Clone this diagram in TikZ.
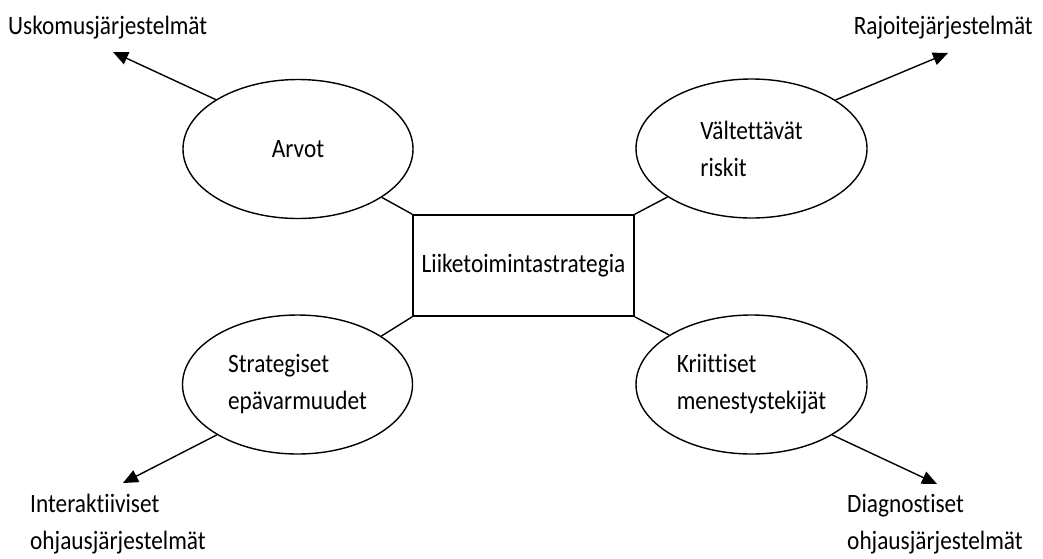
\documentclass[tikz,border=0pt]{standalone}
\usepackage{fontspec}
\setmainfont{Carlito}[Ligatures={NoCommon},FakeStretch=0.88]
\usetikzlibrary{arrows.meta,shapes.geometric}
\begin{document}
\begin{tikzpicture}[x=1pt,y=-1pt,
  txt/.style={font=\fontsize{26.5}{37}\selectfont, inner sep=0pt, align=left},
  oval/.style={ellipse, draw, line width=1.4pt, inner sep=0pt, minimum width=230pt, minimum height=139pt, txt},
  box/.style={rectangle, draw, line width=1.6pt, inner sep=0pt, minimum width=221pt, minimum height=101pt, txt},
  link/.style={line width=1.4pt},
  arr/.style={line width=1.4pt, -{Triangle[length=15pt,width=13pt]}}]
\useasboundingbox (0,0) rectangle (1043,558);
\node[box] (c) at (523.5,265.5) {Liiketoimintastrategia};
\node[oval] (a) at (298,149) {Arvot};
\node[oval, minimum width=231pt] (b) at (751.5,148.5) {Vältettävät\\riskit};
\node[oval] (s) at (297.5,384.5) {Strategiset\\epävarmuudet};
\node[oval, minimum width=231pt] (k) at (751.5,384.5) {Kriittiset\\menestystekijät};
\draw[link] (a.330) -- (c.north west);
\draw[link] (b.210) -- (c.north east);
\draw[link] (s.30) -- (c.south west);
\draw[link] (k.149) -- (c.south east);
\node[txt, anchor=west] (la) at (8,28) {Uskomusjärjestelmät};
\node[txt, anchor=east] (lb) at (1033,28) {Rajoitejärjestelmät};
\node[txt, anchor=west] (ls) at (30,524) {Interaktiiviset\\ohjausjärjestelmät};
\node[txt, anchor=west] (lk) at (847,524) {Diagnostiset\\ohjausjärjestelmät};
\coordinate (ta) at (113,52);
\coordinate (tb) at (948,53);
\coordinate (ts) at (123,483);
\coordinate (tk) at (937,484);
\draw[arr] (a.149.4) -- (ta);
\draw[arr] (b.30.7) -- (tb);
\draw[arr] (s.212.5) -- (ts);
\draw[arr] (k.328.2) -- (tk);
\end{tikzpicture}
\end{document}
